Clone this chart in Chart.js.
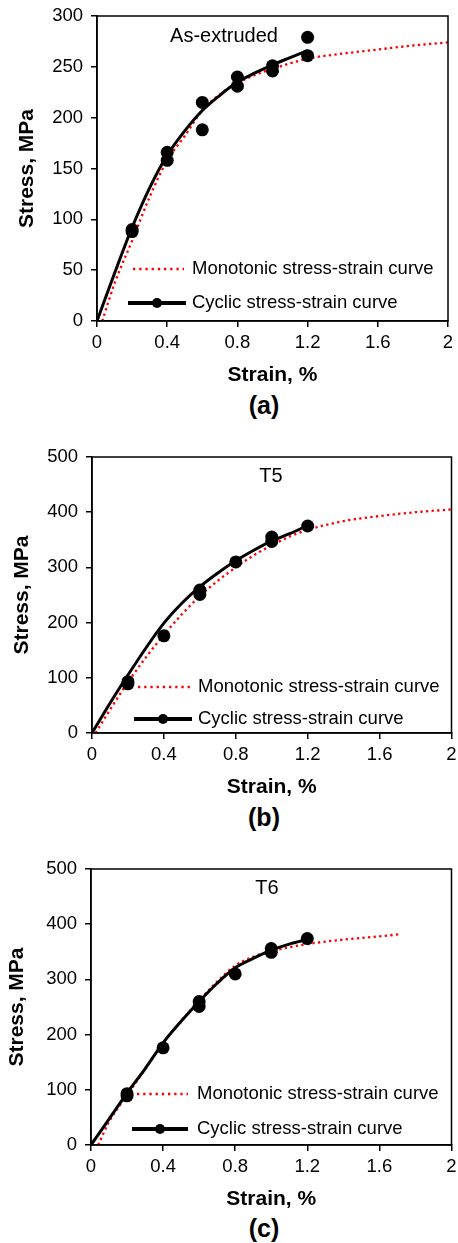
<!DOCTYPE html>
<html>
<head>
<meta charset="utf-8">
<script src="https://cdn.jsdelivr.net/npm/chart.js@4.4.1/dist/chart.umd.min.js"></script>
<style>
  body { margin: 0; width: 458px; height: 1243px; background: #fff; position: relative; overflow: hidden;
         font-family: "Liberation Sans", Arial, sans-serif; }
  canvas { position: absolute; left: 0; }
  .tag { position: absolute; left: 214px; width: 100px; text-align: center; font-weight: bold;
         font-size: 25px; line-height: 28px; color: #000; }
</style>
</head>
<body>
<canvas id="chartA"></canvas>
<canvas id="chartB"></canvas>
<canvas id="chartC"></canvas>
<div class="tag" style="top:391px">(a)</div>
<div class="tag" style="top:803px">(b)</div>
<div class="tag" style="top:1214px">(c)</div>
<script>
// tick labels
const strainTicks = [0, 0.4, 0.8, 1.2, 1.6, 2];
const stressTicksA = [0, 50, 100, 150, 200, 250, 300];
const stressTicksBC = [0, 100, 200, 300, 400, 500];

// (a) As-extruded
const aMonoStrain = [0.03, 0.1, 0.2, 0.3, 0.4, 0.5, 0.6, 0.7, 0.8, 0.9, 1.0, 1.2, 1.4, 1.6, 1.8, 2.0];
const aMonoStress = [0, 37, 79, 122, 158, 182, 207, 223, 234, 242, 248, 258, 263, 267, 271, 274];
const aCycStrain = [0, 0.1, 0.2, 0.3, 0.4, 0.5, 0.6, 0.7, 0.8, 0.9, 1.0, 1.1, 1.2];
const aCycStress = [0, 47, 92, 131, 163, 187, 207, 222, 235, 244, 252, 259, 266];
const aTestStrain = [0.2, 0.2, 0.4, 0.4, 0.6, 0.6, 0.8, 0.8, 1.0, 1.0, 1.2, 1.2];
const aTestStress = [88, 90, 166, 158, 215, 188, 240, 231, 251, 246, 279, 261];

// (b) T5
const bMonoStrain = [0.02, 0.1, 0.2, 0.3, 0.4, 0.5, 0.6, 0.7, 0.8, 0.9, 1.0, 1.1, 1.2, 1.4, 1.6, 1.8, 2.0];
const bMonoStress = [0, 42, 92, 137, 178, 215, 248, 276, 300, 322, 340, 356, 368, 384, 393, 400, 405];
const bCycStrain = [0, 0.1, 0.2, 0.3, 0.4, 0.5, 0.6, 0.7, 0.8, 0.9, 1.0, 1.1, 1.2];
const bCycStress = [0, 54, 105, 154, 199, 235, 265, 290, 312, 331, 348, 361, 376];
const bTestStrain = [0.2, 0.2, 0.4, 0.6, 0.6, 0.8, 1.0, 1.0, 1.2];
const bTestStress = [93, 89, 176, 259, 251, 310, 355, 347, 375];

// (c) T6
const cMonoStrain = [0.04, 0.1, 0.2, 0.3, 0.4, 0.5, 0.6, 0.7, 0.8, 0.9, 1.0, 1.2, 1.4, 1.6, 1.72];
const cMonoStress = [0, 42, 90, 137, 185, 225, 262, 296, 325, 341, 351, 364, 372, 378, 382];
const cCycStrain = [0, 0.1, 0.2, 0.3, 0.4, 0.5, 0.6, 0.7, 0.8, 0.9, 1.0, 1.1, 1.2];
const cCycStress = [0, 47, 94, 138, 185, 224, 260, 293, 321, 338, 353, 364, 372];
const cTestStrain = [0.2, 0.2, 0.4, 0.6, 0.6, 0.8, 1.0, 1.0, 1.2];
const cTestStress = [93, 89, 176, 260, 251, 310, 356, 349, 374];

const FONT = '"Liberation Sans", Arial, sans-serif';
Chart.defaults.font.family = FONT;
Chart.defaults.color = '#000';

function zip(xs, ys) {
  return xs.map((x, i) => ({ x: x, y: ys[i] }));
}

// layout of each panel, in page pixels
const panels = [
  { id: 'chartA', top: 0, padTop: 16, height: 389, left: 97, right: 448, yTitleX: 27,
    yMax: 300, yTicks: stressTicksA, name: 'As-extruded', nameX: 224, nameY: 36,
    leg: { m1: 133, m2: 184, my: 269, c1: 128, c2: 186, cy: 303, tx: 192 },
    mono: [aMonoStrain, aMonoStress], cyc: [aCycStrain, aCycStress], pts: [aTestStrain, aTestStress] },
  { id: 'chartB', top: 420, padTop: 37, height: 381, left: 92, right: 455, yTitleX: 22,
    yMax: 500, yTicks: stressTicksBC, name: 'T5', nameX: 271, nameY: 56,
    leg: { m1: 138, m2: 190, my: 267, c1: 134, c2: 192, cy: 299, tx: 198 },
    mono: [bMonoStrain, bMonoStress], cyc: [bCycStrain, bCycStress], pts: [bTestStrain, bTestStress] },
  { id: 'chartC', top: 840, padTop: 29, height: 373, left: 91, right: 455, yTitleX: 17,
    yMax: 500, yTicks: stressTicksBC, name: 'T6', nameX: 267, nameY: 48,
    leg: { m1: 137, m2: 188, my: 254, c1: 132, c2: 188, cy: 289, tx: 197 },
    mono: [cMonoStrain, cMonoStress], cyc: [cCycStrain, cCycStress], pts: [cTestStrain, cTestStress] }
];

function buildChart(p) {
  const canvas = document.getElementById(p.id);
  canvas.width = 458;
  canvas.height = p.height;
  canvas.style.top = p.top + 'px';

  // frame, panel name and legend
  const extras = {
    id: 'extras' + p.id,
    afterDraw(chart) {
      const ctx = chart.ctx, a = chart.chartArea, l = p.leg;
      ctx.save();
      ctx.strokeStyle = '#000';
      ctx.lineWidth = 1.5;
      ctx.strokeRect(a.left, a.top, a.right - a.left, a.bottom - a.top);

      ctx.fillStyle = '#000';
      ctx.textBaseline = 'middle';
      ctx.textAlign = 'center';
      ctx.font = '20px ' + FONT;
      ctx.fillText(p.name, p.nameX, p.nameY);

      ctx.strokeStyle = '#ff0000';
      ctx.lineWidth = 2.3;
      ctx.setLineDash([2.3, 3.9]);
      ctx.beginPath();
      ctx.moveTo(l.m1, l.my);
      ctx.lineTo(l.m2, l.my);
      ctx.stroke();

      ctx.setLineDash([]);
      ctx.strokeStyle = '#000';
      ctx.lineWidth = 4;
      ctx.beginPath();
      ctx.moveTo(l.c1, l.cy);
      ctx.lineTo(l.c2, l.cy);
      ctx.stroke();
      ctx.beginPath();
      ctx.arc((l.c1 + l.c2) / 2, l.cy, 5, 0, Math.PI * 2);
      ctx.fill();

      ctx.textAlign = 'left';
      ctx.font = '18.5px ' + FONT;
      ctx.fillText('Monotonic stress-strain curve', l.tx, l.my);
      ctx.fillText('Cyclic stress-strain curve', l.tx, l.cy);
      ctx.restore();
    }
  };

  new Chart(canvas, {
    type: 'scatter',
    data: {
      datasets: [
        {
          label: 'Cyclic test points',
          data: zip(p.pts[0], p.pts[1]),
          showLine: false,
          pointRadius: 6.5,
          pointBorderWidth: 0,
          backgroundColor: '#000',
          borderColor: '#000'
        },
        {
          label: 'Cyclic stress-strain curve',
          data: zip(p.cyc[0], p.cyc[1]),
          showLine: true,
          borderColor: '#000',
          borderWidth: 3,
          pointRadius: 0,
          cubicInterpolationMode: 'monotone'
        },
        {
          label: 'Monotonic stress-strain curve',
          data: zip(p.mono[0], p.mono[1]),
          showLine: true,
          borderColor: '#ff0000',
          borderWidth: 2.3,
          borderDash: [2.3, 3.3],
          pointRadius: 0,
          cubicInterpolationMode: 'monotone'
        }
      ]
    },
    options: {
      responsive: false,
      animation: false,
      devicePixelRatio: 1,
      layout: { padding: { left: 0, right: 458 - p.right, top: p.padTop, bottom: 0 } },
      plugins: { legend: { display: false }, tooltip: { enabled: false } },
      scales: {
        x: {
          type: 'linear',
          min: 0,
          max: 2,
          afterBuildTicks: s => { s.ticks = strainTicks.map(v => ({ value: v })); },
          afterFit: s => { s.height = 68; s.paddingLeft = 0; s.paddingRight = 0; },
          ticks: { font: { size: 18.5 }, color: '#000', padding: 5, maxRotation: 0, autoSkip: false,
                   callback: v => String(v) },
          grid: { drawOnChartArea: false, color: '#000', lineWidth: 1.5, tickLength: 6 },
          border: { color: '#000', width: 1.5 },
          title: { display: true, text: 'Strain, %', color: '#000',
                   font: { size: 21, weight: 'bold' }, padding: { top: 0, bottom: 1.5 } }
        },
        y: {
          type: 'linear',
          min: 0,
          max: p.yMax,
          afterBuildTicks: s => { s.ticks = p.yTicks.map(v => ({ value: v })); },
          afterFit: s => { s.width = p.left; s.paddingTop = 0; s.paddingBottom = 0; },
          ticks: { font: { size: 18.5 }, color: '#000', padding: 8, autoSkip: false,
                   callback: v => String(v) },
          grid: { drawOnChartArea: false, color: '#000', lineWidth: 1.5, tickLength: 6 },
          border: { color: '#000', width: 1.5 },
          title: { display: true, text: 'Stress, MPa', color: '#000',
                   font: { size: 21, weight: 'bold' }, padding: { top: p.yTitleX - 12.6, bottom: 0 } }
        }
      }
    },
    plugins: [extras]
  });
}

panels.forEach(buildChart);
</script>
</body>
</html>
